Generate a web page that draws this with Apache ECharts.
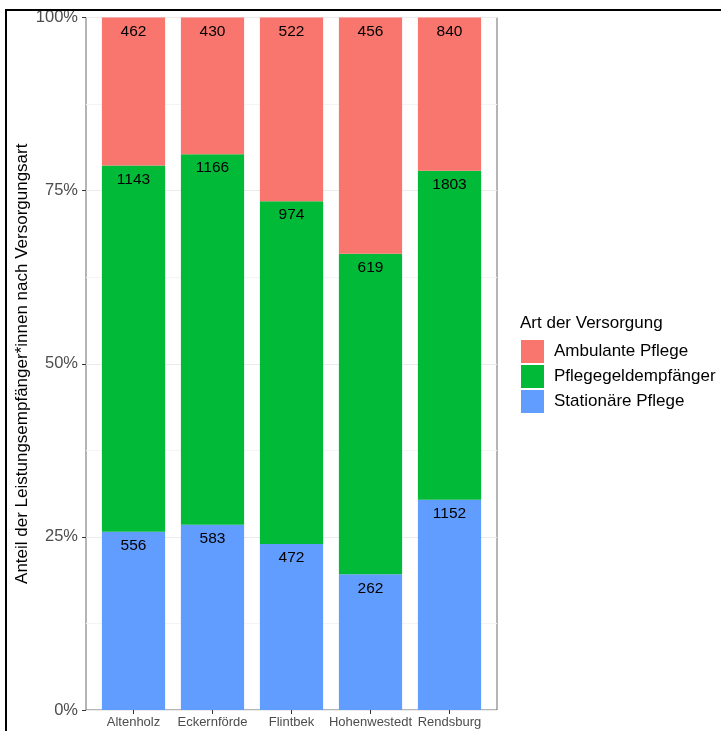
<!DOCTYPE html>
<html>
<head>
<meta charset="utf-8">
<script src="https://cdn.jsdelivr.net/npm/echarts@6/dist/echarts.min.js"></script>
<style>
  html, body { margin: 0; padding: 0; background: #fff; }
  #chart { position: absolute; left: 0; top: 0; width: 721px; height: 731px; }
  #frame { position: absolute; left: 5px; top: 9px; width: 720px; height: 730px;
           border-top: 2px solid #000; border-left: 2px solid #000; pointer-events: none; }
</style>
</head>
<body>
<div id="chart"></div>
<div id="frame"></div>
<script>
const categories = ["Altenholz", "Eckernförde", "Flintbek", "Hohenwestedt", "Rendsburg"];
const seriesNames = ["Ambulante Pflege", "Pflegegeldempfänger", "Stationäre Pflege"];
const ambulante = [462, 430, 522, 456, 840];
const pflegegeld = [1143, 1166, 974, 619, 1803];
const stationaer = [556, 583, 472, 262, 1152];
const yTicks = ["0%", "25%", "50%", "75%", "100%"];
const colors = { "Ambulante Pflege": "#F8766D", "Pflegegeldempfänger": "#00BA38", "Stationäre Pflege": "#619CFF" };

const totals = categories.map((c, i) => ambulante[i] + pflegegeld[i] + stationaer[i]);
function mkData(counts) {
  return counts.map((v, i) => ({ value: v / totals[i], count: v }));
}
// stacking order bottom -> top
const stackOrder = [
  ["Stationäre Pflege", stationaer],
  ["Pflegegeldempfänger", pflegegeld],
  ["Ambulante Pflege", ambulante]
];

const chart = echarts.init(document.getElementById('chart'), null, { renderer: 'canvas' });
const font = 'Liberation Sans, Arial, sans-serif';
chart.setOption({
  animation: false,
  textStyle: { fontFamily: font },
  title: {
    text: "Art der Versorgung",
    left: 520, top: 315, padding: 0,
    textStyle: { fontSize: 17, fontWeight: 'normal', color: '#000', fontFamily: font }
  },
  legend: {
    data: seriesNames,
    orient: 'vertical',
    left: 521, top: 340,
    icon: 'rect',
    itemWidth: 23, itemHeight: 23, itemGap: 2,
    textStyle: { fontSize: 17, color: '#000', fontFamily: font, padding: [0, 0, 0, 5] },
    padding: 0,
    selectedMode: false
  },
  grid: [
    // panel (border, y axis, gridlines)
    { left: 86, right: 224, top: 17.5, bottom: 21, show: true, borderColor: '#6b6b6b', borderWidth: 1, containLabel: false },
    // bars area: ggplot discrete expansion of 0.6 on each side
    { left: 94, right: 232, top: 17.5, bottom: 21, containLabel: false }
  ],
  xAxis: [
    { gridIndex: 0, type: 'value', min: 0, max: 1, show: false },
    {
      gridIndex: 1, type: 'category', data: categories, boundaryGap: true,
      axisLine: { show: false },
      splitLine: { show: false },
      axisTick: { show: true, alignWithLabel: true, length: 4, lineStyle: { color: '#333' } },
      axisLabel: { fontSize: 13, color: '#4D4D4D', margin: 6, fontFamily: font, interval: 0 }
    }
  ],
  yAxis: [
    {
      gridIndex: 0, type: 'value', min: 0, max: 1, interval: 0.25,
      name: "Anteil der Leistungsempfänger*innen nach Versorgungsart",
      nameLocation: 'middle', nameGap: 55, nameMoveOverlap: false,
      nameTextStyle: { fontSize: 17, color: '#000', fontFamily: font },
      axisLine: { show: false },
      axisTick: { show: true, length: 4, lineStyle: { color: '#333' } },
      axisLabel: { formatter: v => yTicks[Math.round(v * 4)], fontSize: 16.5, color: '#4D4D4D', margin: 8, fontFamily: font },
      splitLine: { show: true, lineStyle: { color: '#EBEBEB', width: 1 } },
      minorTick: { show: false, splitNumber: 2 },
      minorSplitLine: { show: true, lineStyle: { color: '#F4F4F4', width: 1 } }
    },
    { gridIndex: 1, type: 'value', min: 0, max: 1, show: false }
  ],
  series: stackOrder.map(([name, counts]) => ({
    name: name,
    type: 'bar',
    xAxisIndex: 1, yAxisIndex: 1,
    stack: 'total',
    barWidth: '80%',
    itemStyle: { color: colors[name] },
    label: {
      show: true, position: 'insideTop', distance: 6,
      formatter: p => String(p.data.count),
      fontSize: 15.5, color: '#000', fontFamily: font
    },
    data: mkData(counts)
  }))
});
</script>
</body>
</html>
